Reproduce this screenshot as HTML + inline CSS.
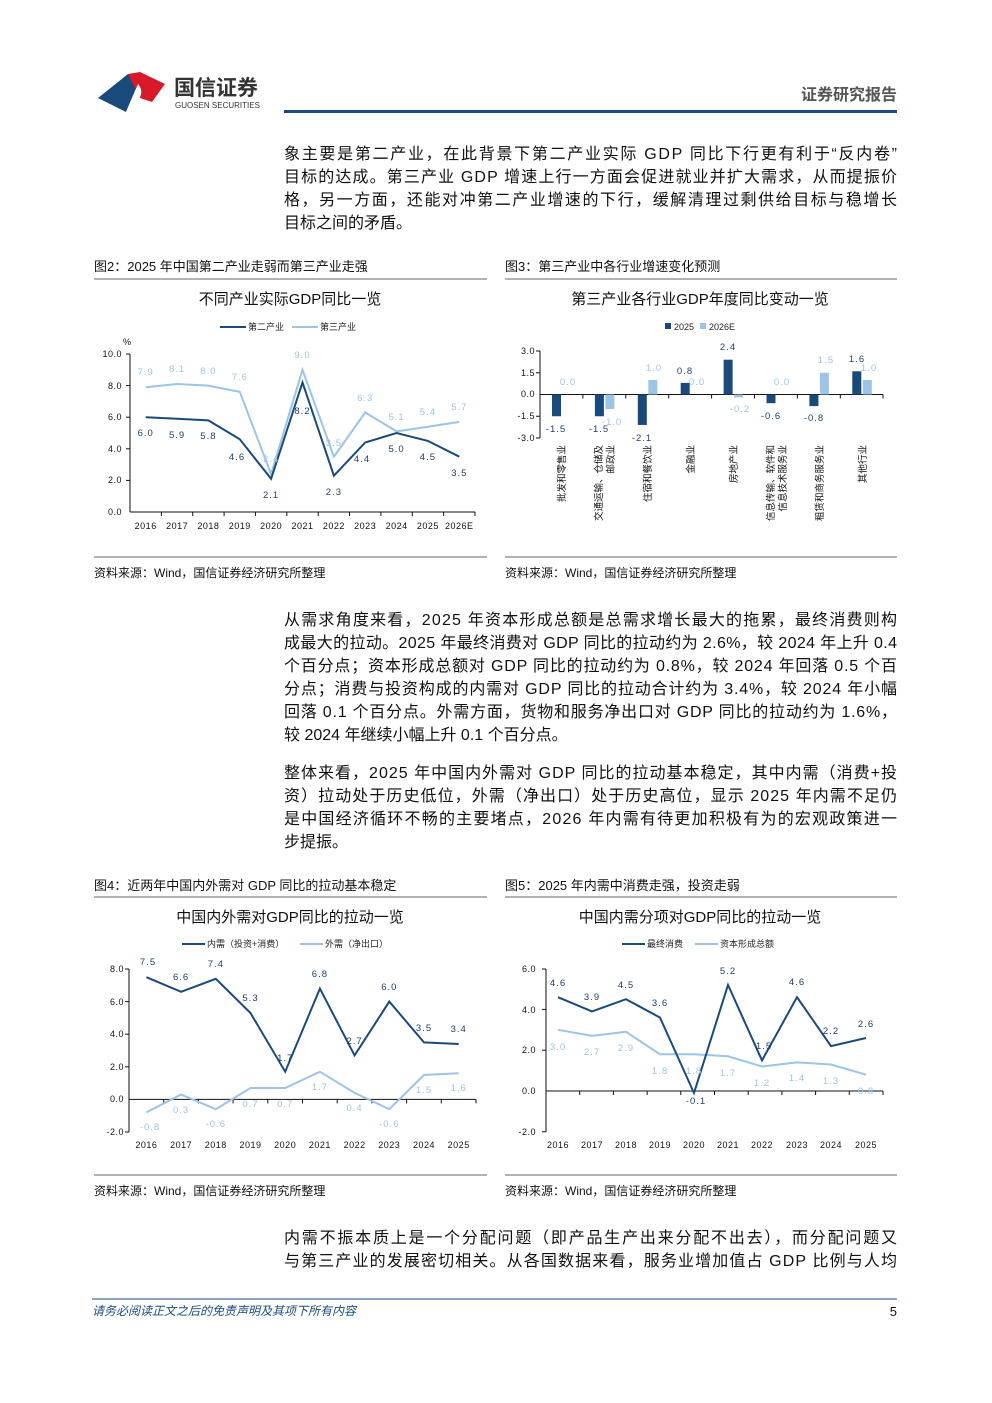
<!DOCTYPE html>
<html><head><meta charset="utf-8"><style>
html,body{margin:0;padding:0;background:#fff}
svg{display:block}
text{font-family:"Liberation Sans","Noto Sans CJK SC",sans-serif}
.p{font-size:16px;fill:#111}
.cap{font-size:13px;fill:#111}
.ct{font-size:15px;fill:#111}
.lg{font-size:9px;fill:#222}
.tk{font-size:9px;fill:#111;letter-spacing:0.5px}
.vd{font-size:9.5px;fill:#1f3d6b;letter-spacing:1px;text-anchor:middle}
.vl{font-size:9.5px;fill:#9dc3e6;letter-spacing:1px;text-anchor:middle}
</style></head><body>
<svg width="992" height="1403" viewBox="0 0 992 1403" xmlns="http://www.w3.org/2000/svg">
<!-- header -->
<path d="M98 98 L128 74 L138 84 L126 112 Z" fill="#1a4a7c"/>
<path d="M128 74 L140 72 L165 84 L152 102 L140 98 Z" fill="#d7192a"/>
<path d="M138 84 C145 92 140 100 130 112 L126 112 Z" fill="#fff"/>
<text x="174" y="95" style="font-size:21px;font-weight:bold;fill:#333">国信证券</text>
<text x="175" y="108" style="font-size:8px;fill:#333">GUOSEN SECURITIES</text>
<text x="897" y="100" text-anchor="end" style="font-size:16px;font-weight:bold;fill:#555">证券研究报告</text>
<rect x="284" y="110" width="613" height="3" fill="#1a4a7c"/>

<!-- para1 -->
<g class="p">
<text x="284" y="159" textLength="613" lengthAdjust="spacing" class="p">象主要是第二产业，在此背景下第二产业实际 GDP 同比下行更有利于“反内卷”</text>
<text x="284" y="182" textLength="613" lengthAdjust="spacing" class="p">目标的达成。第三产业 GDP 增速上行一方面会促进就业并扩大需求，从而提振价</text>
<text x="284" y="205" textLength="613" lengthAdjust="spacing" class="p">格，另一方面，还能对冲第二产业增速的下行，缓解清理过剩供给目标与稳增长</text>
<text x="284" y="228" class="p">目标之间的矛盾。</text>
</g>

<!-- fig captions -->
<text x="94" y="271" class="cap">图2：2025 年中国第二产业走弱而第三产业走强</text>
<text x="505" y="271" class="cap">图3：第三产业中各行业增速变化预测</text>
<line x1="94" y1="279" x2="487" y2="279" stroke="#333" stroke-width="0.8"/>
<line x1="505" y1="279" x2="897" y2="279" stroke="#333" stroke-width="0.8"/>
<line x1="94" y1="557" x2="487" y2="557" stroke="#333" stroke-width="0.8"/>
<line x1="505" y1="557" x2="897" y2="557" stroke="#333" stroke-width="0.8"/>
<text x="94" y="577" class="cap" style="font-size:12px">资料来源：Wind，国信证券经济研究所整理</text>
<text x="505" y="577" class="cap" style="font-size:12px">资料来源：Wind，国信证券经济研究所整理</text>

<!-- chart 1 -->
<text x="290" y="304" text-anchor="middle" class="ct">不同产业实际GDP同比一览</text>
<line x1="220" y1="327" x2="246" y2="327" stroke="#1b4a7a" stroke-width="2"/>
<text x="248" y="330" class="lg">第二产业</text>
<line x1="292" y1="327" x2="318" y2="327" stroke="#9dc3e6" stroke-width="2"/>
<text x="320" y="330" class="lg">第三产业</text>
<text x="123" y="345" class="tk">%</text>
<g class="tk" text-anchor="end">
<text x="122" y="357">10.0</text><text x="122" y="389">8.0</text><text x="122" y="420">6.0</text><text x="122" y="452">4.0</text><text x="122" y="483">2.0</text><text x="122" y="515">0.0</text>
</g>
<line x1="130" y1="354" x2="130" y2="512" stroke="#111"/>
<line x1="130" y1="512" x2="475" y2="512" stroke="#111"/>
<g stroke="#111">
<line x1="126" y1="354" x2="130" y2="354"/><line x1="126" y1="385.6" x2="130" y2="385.6"/><line x1="126" y1="417.2" x2="130" y2="417.2"/><line x1="126" y1="448.8" x2="130" y2="448.8"/><line x1="126" y1="480.4" x2="130" y2="480.4"/>
<line x1="161.4" y1="512" x2="161.4" y2="516"/><line x1="192.7" y1="512" x2="192.7" y2="516"/><line x1="224.1" y1="512" x2="224.1" y2="516"/><line x1="255.4" y1="512" x2="255.4" y2="516"/><line x1="286.8" y1="512" x2="286.8" y2="516"/><line x1="318.2" y1="512" x2="318.2" y2="516"/><line x1="349.5" y1="512" x2="349.5" y2="516"/><line x1="380.9" y1="512" x2="380.9" y2="516"/><line x1="412.3" y1="512" x2="412.3" y2="516"/><line x1="443.6" y1="512" x2="443.6" y2="516"/><line x1="475" y1="512" x2="475" y2="516"/>
</g>
<g class="tk" text-anchor="middle">
<text x="145.7" y="529">2016</text><text x="177.1" y="529">2017</text><text x="208.4" y="529">2018</text><text x="239.8" y="529">2019</text><text x="271.1" y="529">2020</text><text x="302.5" y="529">2021</text><text x="333.9" y="529">2022</text><text x="365.2" y="529">2023</text><text x="396.6" y="529">2024</text><text x="427.9" y="529">2025</text><text x="459.3" y="529">2026E</text>
</g>
<polyline fill="none" stroke="#9dc3e6" stroke-width="2" points="145.7,387.2 177.1,384 208.4,385.6 239.8,391.9 271.1,474.1 302.5,369.8 333.9,456.7 365.2,412.5 396.6,431.4 427.9,426.7 459.3,421.9"/>
<polyline fill="none" stroke="#1b4a7a" stroke-width="2" points="145.7,417.2 177.1,418.8 208.4,420.4 239.8,439.3 271.1,478.8 302.5,382.4 333.9,475.7 365.2,442.5 396.6,433 427.9,440.9 459.3,456.7"/>
<g class="vl">
<text x="145.7" y="375">7.9</text><text x="177.1" y="372">8.1</text><text x="208.4" y="374">8.0</text><text x="239.8" y="380">7.6</text><text x="271.1" y="462">2.4</text><text x="302.5" y="358">9.0</text><text x="333.9" y="446">3.5</text><text x="365.2" y="401">6.3</text><text x="396.6" y="420">5.1</text><text x="427.9" y="415">5.4</text><text x="459.3" y="410">5.7</text>
</g>
<g class="vd">
<text x="145.7" y="436">6.0</text><text x="177.1" y="438">5.9</text><text x="208.4" y="439">5.8</text><text x="237" y="460">4.6</text><text x="271.1" y="498">2.1</text><text x="302.5" y="414">8.2</text><text x="333.9" y="495">2.3</text><text x="362" y="462">4.4</text><text x="396.6" y="452">5.0</text><text x="427.9" y="460">4.5</text><text x="459.3" y="476">3.5</text>
</g>

<!-- chart 2 -->
<text x="700" y="304" text-anchor="middle" class="ct">第三产业各行业GDP年度同比变动一览</text>
<rect x="665" y="323" width="6" height="6" fill="#1b4a7a"/><text x="674" y="330" class="lg">2025</text>
<rect x="700" y="323" width="6" height="6" fill="#9dc3e6"/><text x="709" y="330" class="lg">2026E</text>
<g class="tk" text-anchor="end">
<text x="535" y="354">3.0</text><text x="535" y="376">1.5</text><text x="535" y="397">0.0</text><text x="535" y="419">-1.5</text><text x="535" y="441">-3.0</text>
</g>
<line x1="540" y1="351" x2="540" y2="438" stroke="#111"/>
<line x1="540" y1="394.5" x2="883" y2="394.5" stroke="#111"/>
<g stroke="#111">
<line x1="536" y1="351" x2="540" y2="351"/><line x1="536" y1="372.75" x2="540" y2="372.75"/><line x1="536" y1="416.25" x2="540" y2="416.25"/><line x1="536" y1="438" x2="540" y2="438"/>
<line x1="582.9" y1="394.5" x2="582.9" y2="398.5"/><line x1="625.8" y1="394.5" x2="625.8" y2="398.5"/><line x1="668.7" y1="394.5" x2="668.7" y2="398.5"/><line x1="711.6" y1="394.5" x2="711.6" y2="398.5"/><line x1="754.5" y1="394.5" x2="754.5" y2="398.5"/><line x1="797.4" y1="394.5" x2="797.4" y2="398.5"/><line x1="840.3" y1="394.5" x2="840.3" y2="398.5"/><line x1="883" y1="394.5" x2="883" y2="398.5"/>
</g>
<g fill="#1b4a7a">
<rect x="552" y="394.5" width="9" height="21.75"/>
<rect x="594.9" y="394.5" width="9" height="21.75"/>
<rect x="637.8" y="394.5" width="9" height="30.45"/>
<rect x="680.7" y="382.9" width="9" height="11.6"/>
<rect x="723.6" y="359.7" width="9" height="34.8"/>
<rect x="766.5" y="394.5" width="9" height="8.7"/>
<rect x="809.4" y="394.5" width="9" height="11.6"/>
<rect x="852.3" y="371.3" width="9" height="23.2"/>
</g>
<g fill="#9dc3e6">
<rect x="605.4" y="394.5" width="9" height="14.5"/>
<rect x="648.3" y="380" width="9" height="14.5"/>
<rect x="734.1" y="394.5" width="9" height="2.9"/>
<rect x="819.9" y="372.75" width="9" height="21.75"/>
<rect x="862.8" y="380" width="9" height="14.5"/>
</g>
<g class="vd">
<text x="556" y="432">-1.5</text><text x="599" y="432">-1.5</text><text x="642" y="441">-2.1</text><text x="685" y="374">0.8</text><text x="728" y="350">2.4</text><text x="771" y="419">-0.6</text><text x="814" y="421">-0.8</text><text x="857" y="362">1.6</text>
</g>
<g class="vl">
<text x="568" y="385">0.0</text><text x="612" y="425">-1.0</text><text x="654" y="371">1.0</text><text x="697" y="385">0.0</text><text x="740" y="412">-0.2</text><text x="782" y="385">0.0</text><text x="826" y="363">1.5</text><text x="869" y="371">1.0</text>
</g>
<g style="font-size:9.5px;fill:#111" text-anchor="end">
<text transform="translate(565,445) rotate(-90)">批发和零售业</text>
<text transform="translate(602,445) rotate(-90)">交通运输、仓储及</text>
<text transform="translate(614,445) rotate(-90)">邮政业</text>
<text transform="translate(651,445) rotate(-90)">住宿和餐饮业</text>
<text transform="translate(694,445) rotate(-90)">金融业</text>
<text transform="translate(737,445) rotate(-90)">房地产业</text>
<text transform="translate(774,445) rotate(-90)">信息传输、软件和</text>
<text transform="translate(786,445) rotate(-90)">信息技术服务业</text>
<text transform="translate(823,445) rotate(-90)">租赁和商务服务业</text>
<text transform="translate(866,445) rotate(-90)">其他行业</text>
</g>

<!-- para2 -->
<text x="284" y="625" textLength="613" lengthAdjust="spacing" class="p">从需求角度来看，2025 年资本形成总额是总需求增长最大的拖累，最终消费则构</text>
<text x="284" y="648" textLength="613" lengthAdjust="spacing" class="p">成最大的拉动。2025 年最终消费对 GDP 同比的拉动约为 2.6%，较 2024 年上升 0.4</text>
<text x="284" y="671" textLength="613" lengthAdjust="spacing" class="p">个百分点；资本形成总额对 GDP 同比的拉动约为 0.8%，较 2024 年回落 0.5 个百</text>
<text x="284" y="694" textLength="613" lengthAdjust="spacing" class="p">分点；消费与投资构成的内需对 GDP 同比的拉动合计约为 3.4%，较 2024 年小幅</text>
<text x="284" y="717" textLength="613" lengthAdjust="spacing" class="p">回落 0.1 个百分点。外需方面，货物和服务净出口对 GDP 同比的拉动约为 1.6%，</text>
<text x="284" y="740" class="p">较 2024 年继续小幅上升 0.1 个百分点。</text>
<!-- para3 -->
<text x="284" y="778" textLength="613" lengthAdjust="spacing" class="p">整体来看，2025 年中国内外需对 GDP 同比的拉动基本稳定，其中内需（消费+投</text>
<text x="284" y="801" textLength="613" lengthAdjust="spacing" class="p">资）拉动处于历史低位，外需（净出口）处于历史高位，显示 2025 年内需不足仍</text>
<text x="284" y="824" textLength="613" lengthAdjust="spacing" class="p">是中国经济循环不畅的主要堵点，2026 年内需有待更加积极有为的宏观政策进一</text>
<text x="284" y="847" class="p">步提振。</text>

<!-- fig4/5 captions -->
<text x="94" y="890" class="cap">图4：近两年中国内外需对 GDP 同比的拉动基本稳定</text>
<text x="505" y="890" class="cap">图5：2025 年内需中消费走强，投资走弱</text>
<line x1="94" y1="897" x2="487" y2="897" stroke="#333" stroke-width="0.8"/>
<line x1="505" y1="897" x2="897" y2="897" stroke="#333" stroke-width="0.8"/>
<line x1="94" y1="1175" x2="487" y2="1175" stroke="#333" stroke-width="0.8"/>
<line x1="505" y1="1175" x2="897" y2="1175" stroke="#333" stroke-width="0.8"/>
<text x="94" y="1195" class="cap" style="font-size:12px">资料来源：Wind，国信证券经济研究所整理</text>
<text x="505" y="1195" class="cap" style="font-size:12px">资料来源：Wind，国信证券经济研究所整理</text>

<!-- chart 4 -->
<text x="290" y="922" text-anchor="middle" class="ct">中国内外需对GDP同比的拉动一览</text>
<line x1="182" y1="944" x2="205" y2="944" stroke="#1b4a7a" stroke-width="2"/>
<text x="207" y="947" class="lg">内需（投资+消费）</text>
<line x1="300" y1="944" x2="323" y2="944" stroke="#9dc3e6" stroke-width="2"/>
<text x="325" y="947" class="lg">外需（净出口）</text>
<g class="tk" text-anchor="end">
<text x="124" y="972">8.0</text><text x="124" y="1005">6.0</text><text x="124" y="1037">4.0</text><text x="124" y="1070">2.0</text><text x="124" y="1102">0.0</text><text x="124" y="1135">-2.0</text>
</g>
<line x1="129" y1="969" x2="129" y2="1132" stroke="#111"/>
<line x1="129" y1="1099.4" x2="476" y2="1099.4" stroke="#111"/>
<g stroke="#111">
<line x1="125" y1="969" x2="129" y2="969"/><line x1="125" y1="1001.6" x2="129" y2="1001.6"/><line x1="125" y1="1034.2" x2="129" y2="1034.2"/><line x1="125" y1="1066.8" x2="129" y2="1066.8"/><line x1="125" y1="1132" x2="129" y2="1132"/>
<line x1="163.7" y1="1099.4" x2="163.7" y2="1103.4"/><line x1="198.4" y1="1099.4" x2="198.4" y2="1103.4"/><line x1="233.1" y1="1099.4" x2="233.1" y2="1103.4"/><line x1="267.8" y1="1099.4" x2="267.8" y2="1103.4"/><line x1="302.5" y1="1099.4" x2="302.5" y2="1103.4"/><line x1="337.2" y1="1099.4" x2="337.2" y2="1103.4"/><line x1="371.9" y1="1099.4" x2="371.9" y2="1103.4"/><line x1="406.6" y1="1099.4" x2="406.6" y2="1103.4"/><line x1="441.3" y1="1099.4" x2="441.3" y2="1103.4"/><line x1="476" y1="1099.4" x2="476" y2="1103.4"/>
</g>
<g class="tk" text-anchor="middle">
<text x="146.4" y="1148">2016</text><text x="181.1" y="1148">2017</text><text x="215.8" y="1148">2018</text><text x="250.5" y="1148">2019</text><text x="285.2" y="1148">2020</text><text x="319.9" y="1148">2021</text><text x="354.6" y="1148">2022</text><text x="389.3" y="1148">2023</text><text x="424" y="1148">2024</text><text x="458.7" y="1148">2025</text>
</g>
<polyline fill="none" stroke="#9dc3e6" stroke-width="2" points="146.4,1112.4 181.1,1094.5 215.8,1109.2 250.5,1088 285.2,1088 319.9,1071.7 354.6,1092.9 389.3,1109.2 424,1075 458.7,1073.3"/>
<polyline fill="none" stroke="#1b4a7a" stroke-width="2" points="146.4,977.2 181.1,991.8 215.8,978.8 250.5,1013 285.2,1071.7 319.9,988.6 354.6,1055.4 389.3,1001.6 424,1042.4 458.7,1044"/>
<g class="vd">
<text x="148" y="965">7.5</text><text x="181.1" y="980">6.6</text><text x="215.8" y="967">7.4</text><text x="250.5" y="1001">5.3</text><text x="285.2" y="1061">1.7</text><text x="319.9" y="977">6.8</text><text x="354.6" y="1044">2.7</text><text x="389.3" y="990">6.0</text><text x="424" y="1031">3.5</text><text x="458.7" y="1032">3.4</text>
</g>
<g class="vl">
<text x="150" y="1130">-0.8</text><text x="181.1" y="1113">0.3</text><text x="215.8" y="1127">-0.6</text><text x="250.5" y="1107">0.7</text><text x="285.2" y="1107">0.7</text><text x="319.9" y="1090">1.7</text><text x="354.6" y="1111">0.4</text><text x="389.3" y="1127">-0.6</text><text x="424" y="1093">1.5</text><text x="458.7" y="1091">1.6</text>
</g>

<!-- chart 5 -->
<text x="700" y="922" text-anchor="middle" class="ct">中国内需分项对GDP同比的拉动一览</text>
<line x1="622" y1="944" x2="645" y2="944" stroke="#1b4a7a" stroke-width="2"/>
<text x="647" y="947" class="lg">最终消费</text>
<line x1="695" y1="944" x2="718" y2="944" stroke="#9dc3e6" stroke-width="2"/>
<text x="720" y="947" class="lg">资本形成总额</text>
<g class="tk" text-anchor="end">
<text x="536" y="972">6.0</text><text x="536" y="1013">4.0</text><text x="536" y="1053">2.0</text><text x="536" y="1094">0.0</text><text x="536" y="1135">-2.0</text>
</g>
<line x1="546" y1="969" x2="546" y2="1132" stroke="#111"/>
<line x1="546" y1="1091" x2="883" y2="1091" stroke="#111"/>
<g stroke="#111">
<line x1="542" y1="969" x2="546" y2="969"/><line x1="542" y1="1009.4" x2="546" y2="1009.4"/><line x1="542" y1="1050.2" x2="546" y2="1050.2"/><line x1="542" y1="1131.8" x2="546" y2="1131.8"/>
<line x1="579.7" y1="1091" x2="579.7" y2="1095"/><line x1="613.4" y1="1091" x2="613.4" y2="1095"/><line x1="647.1" y1="1091" x2="647.1" y2="1095"/><line x1="680.8" y1="1091" x2="680.8" y2="1095"/><line x1="714.5" y1="1091" x2="714.5" y2="1095"/><line x1="748.2" y1="1091" x2="748.2" y2="1095"/><line x1="781.9" y1="1091" x2="781.9" y2="1095"/><line x1="815.6" y1="1091" x2="815.6" y2="1095"/><line x1="849.3" y1="1091" x2="849.3" y2="1095"/><line x1="883" y1="1091" x2="883" y2="1095"/>
</g>
<g class="tk" text-anchor="middle">
<text x="558" y="1148">2016</text><text x="592" y="1148">2017</text><text x="626" y="1148">2018</text><text x="660" y="1148">2019</text><text x="694" y="1148">2020</text><text x="728" y="1148">2021</text><text x="762" y="1148">2022</text><text x="797" y="1148">2023</text><text x="831" y="1148">2024</text><text x="866" y="1148">2025</text>
</g>
<polyline fill="none" stroke="#9dc3e6" stroke-width="2" points="558,1029.8 592,1035.9 626,1031.8 660,1054.3 694,1054.3 728,1056.3 762,1066.5 797,1062.4 831,1064.5 866,1074.7"/>
<polyline fill="none" stroke="#1b4a7a" stroke-width="2" points="558,997.2 592,1011.4 626,999.2 660,1017.6 694,1093 728,984.9 762,1060.4 797,997.2 831,1046.1 866,1038"/>
<g class="vd">
<text x="558" y="986">4.6</text><text x="592" y="1000">3.9</text><text x="626" y="988">4.5</text><text x="660" y="1006">3.6</text><text x="696" y="1104">-0.1</text><text x="728" y="974">5.2</text><text x="764" y="1049">1.5</text><text x="797" y="985">4.6</text><text x="831" y="1034">2.2</text><text x="866" y="1027">2.6</text>
</g>
<g class="vl">
<text x="558" y="1050">3.0</text><text x="592" y="1055">2.7</text><text x="626" y="1051">2.9</text><text x="660" y="1074">1.8</text><text x="694" y="1074">1.8</text><text x="728" y="1076">1.7</text><text x="762" y="1086">1.2</text><text x="797" y="1081">1.4</text><text x="831" y="1084">1.3</text><text x="866" y="1094">0.8</text>
</g>

<!-- para4 -->
<text x="284" y="1243" textLength="613" lengthAdjust="spacing" class="p">内需不振本质上是一个分配问题（即产品生产出来分配不出去），而分配问题又</text>
<text x="284" y="1266" textLength="613" lengthAdjust="spacing" class="p">与第三产业的发展密切相关。从各国数据来看，服务业增加值占 GDP 比例与人均</text>

<!-- footer -->
<line x1="92" y1="1299" x2="897" y2="1299" stroke="#1a4a7c" stroke-width="1"/>
<text x="92" y="1315" style="font-size:12px;font-style:italic;fill:#1a4a7c">请务必阅读正文之后的免责声明及其项下所有内容</text>
<text x="897" y="1316" text-anchor="end" style="font-size:13px;fill:#111">5</text>
</svg>
</body></html>
